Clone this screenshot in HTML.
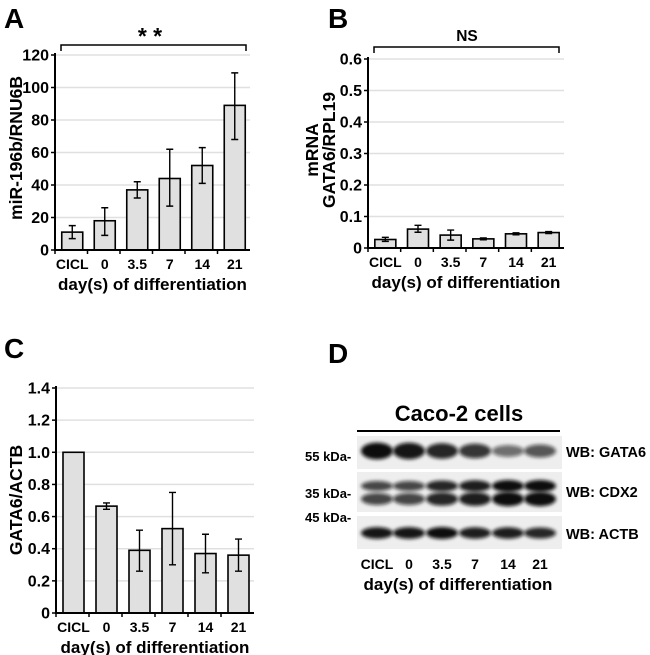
<!DOCTYPE html>
<html><head><meta charset="utf-8"><style>
body{margin:0;background:#fff}
svg{display:block;font-family:"Liberation Sans",Arial,sans-serif;font-weight:bold}
</style></head><body>
<svg id="fig" width="650" height="655" viewBox="0 0 650 655" xmlns="http://www.w3.org/2000/svg">
<defs>
<filter id="blur" x="-20%" y="-100%" width="140%" height="300%"><feGaussianBlur stdDeviation="1.8"/></filter>
</defs>
<g id="pA"></g>
<g id="pB"></g>
<g id="pC"></g>
<g id="pD"></g>
</svg>
<script>
const categories = ["CICL","0","3.5","7","14","21"];
const valuesA = [11,18,37,44,52,89];
const errLoA = [7,9,32,27,41,68];
const errHiA = [15,26,42,62,63,109];
const ticksA = [0,20,40,60,80,100,120];
const valuesB = [0.027,0.060,0.041,0.029,0.045,0.049];
const errLoB = [0.021,0.050,0.025,0.026,0.042,0.046];
const errHiB = [0.034,0.072,0.057,0.032,0.048,0.052];
const ticksB = [0,0.1,0.2,0.3,0.4,0.5,0.6];
const tickLabelsB = ["0","0.1","0.2","0.3","0.4","0.5","0.6"];
const valuesC = [1.0,0.665,0.39,0.525,0.37,0.36];
const errLoC = [1.0,0.645,0.26,0.30,0.25,0.26];
const errHiC = [1.0,0.685,0.515,0.75,0.49,0.46];
const ticksC = [0,0.2,0.4,0.6,0.8,1.0,1.2,1.4];
const tickLabelsC = ["0","0.2","0.4","0.6","0.8","1.0","1.2","1.4"];
const bandGATA6 = [1.0,0.95,0.85,0.75,0.4,0.55];
const bandCDX2 = [0.65,0.65,0.85,0.9,1.0,1.0];
const bandACTB = [0.95,0.95,1.0,0.9,0.9,0.85];

const NS="http://www.w3.org/2000/svg";
function mk(parent,tag,attrs,text){const e=document.createElementNS(NS,tag);for(const k in attrs)e.setAttribute(k,attrs[k]);if(text!==undefined)e.textContent=text;parent.appendChild(e);return e;}

function chart(g,cfg){
  const {x0,x1,y0,yTop,max,ticks,labels,vals,lo,hi}=cfg;
  const ys=v=>y0-(v/max)*(y0-yTop);
  const bw=(x1-x0)/6;
  const xc=i=>x0+bw*(i+0.5)+1;
  ticks.forEach((t,i)=>{
    if(t>0){const gl=mk(g,'line',{x1:x0,x2:x1,y1:ys(t),y2:ys(t),stroke:'#e0e0e0','stroke-width':1.5});
    
    }
    const tk=mk(g,'line',{x1:x0-4,x2:x0,y1:ys(t),y2:ys(t),stroke:'#000','stroke-width':1.5});
    
    
    const tl=mk(g,'text',{x:x0-6,y:ys(t)+5.5,'text-anchor':'end','font-size':16},labels[i]);
    
    
  });
  vals.forEach((v,i)=>{
    const b=mk(g,'rect',{x:xc(i)-10.5,y:ys(v),width:21,height:y0-ys(v),fill:'#e0e0e0',stroke:'#000','stroke-width':1.6});
    
    
    if(hi[i]>lo[i]){
      const eg=mk(g,'path',{d:`M${xc(i)} ${ys(lo[i])}V${ys(hi[i])}M${xc(i)-3.5} ${ys(lo[i])}h7M${xc(i)-3.5} ${ys(hi[i])}h7`,stroke:'#000','stroke-width':1.4,fill:'none'});
      
      
    }
    const xl=mk(g,'text',{x:xc(i),y:y0+19,'text-anchor':'middle','font-size':14},categories[i]);
    
    
    const xt=mk(g,'line',{x1:x0+bw*i,x2:x0+bw*i,y1:y0,y2:y0+4,stroke:'#000','stroke-width':1.5});
    
    
  });
  const ax=mk(g,'path',{d:`M${x0} ${yTop-2}V${y0}H${x1}`,stroke:'#000','stroke-width':2,fill:'none'});
  
  
  const xt=mk(g,'text',{x:(x0+x1)/2,y:y0+40,'text-anchor':'middle','font-size':17},'day(s) of differentiation');
  
  
}

const pA=document.getElementById('pA');
chart(pA,{x0:55,x1:250,y0:250,yTop:55,max:120,ticks:ticksA,labels:ticksA.map(String),vals:valuesA,lo:errLoA,hi:errHiA});
const pB=document.getElementById('pB');
chart(pB,{x0:368,x1:564,y0:248,yTop:59,max:0.6,ticks:ticksB,labels:tickLabelsB,vals:valuesB,lo:errLoB,hi:errHiB});
const pC=document.getElementById('pC');
chart(pC,{x0:56,x1:254,y0:613,yTop:388,max:1.4,ticks:ticksC,labels:tickLabelsC,vals:valuesC,lo:errLoC,hi:errHiC});

let e;
e=mk(pA,'text',{x:4,y:28,'font-size':28},'A');


e=mk(pA,'text',{x:0,y:0,'font-size':17.5,'text-anchor':'middle',transform:'translate(22,148) rotate(-90)'},'miR-196b/RNU6B');


e=mk(pA,'path',{d:'M61 51V45H246V51',stroke:'#000','stroke-width':1.5,fill:'none'});


e=mk(pA,'text',{x:150,y:44,'font-size':23,'text-anchor':'middle'},'* *');



e=mk(pB,'text',{x:328,y:28,'font-size':28},'B');


e=mk(pB,'text',{x:0,y:0,'font-size':17.5,'text-anchor':'middle',transform:'translate(318,150) rotate(-90)'},'mRNA');


e=mk(pB,'text',{x:0,y:0,'font-size':17.5,'text-anchor':'middle',transform:'translate(335,150) rotate(-90)'},'GATA6/RPL19');


e=mk(pB,'path',{d:'M374 53V47H559V53',stroke:'#000','stroke-width':1.5,fill:'none'});


e=mk(pB,'text',{x:467,y:41,'font-size':15.5,'text-anchor':'middle'},'NS');



e=mk(pC,'text',{x:4,y:358,'font-size':28},'C');


e=mk(pC,'text',{x:0,y:0,'font-size':17.5,'text-anchor':'middle',transform:'translate(22,500) rotate(-90)'},'GATA6/ACTB');



// Panel D
const pD=document.getElementById('pD');
e=mk(pD,'text',{x:328,y:363,'font-size':28},'D');


e=mk(pD,'text',{x:459,y:421,'font-size':22,'text-anchor':'middle'},'Caco-2 cells');


e=mk(pD,'line',{x1:357,x2:560,y1:431,y2:431,stroke:'#000','stroke-width':2});


const lanes=[377,409,442,475,508,540];
const strips=[
 {name:'gata6',y:436,h:33,bands:[[451,7]],vals:bandGATA6,label:'WB: GATA6',ly:457,kda:'55 kDa',ky:461},
 {name:'cdx2',y:472,h:40,bands:[[486,5],[499,6]],vals:bandCDX2,label:'WB: CDX2',ly:497,kda:'35 kDa',ky:498},
 {name:'actb',y:516,h:33,bands:[[533,5]],vals:bandACTB,label:'WB: ACTB',ly:539,kda:'45 kDa',ky:522}
];
strips.forEach(s=>{
  const r=mk(pD,'rect',{x:357,y:s.y,width:205,height:s.h,fill:'#eeeeee'});
  
  
  s.vals.forEach((v,i)=>{
    s.bands.forEach(b=>{
      const el=mk(pD,'ellipse',{cx:lanes[i],cy:b[0],rx:16,ry:b[1]*(0.6+0.6*v),fill:'#111','fill-opacity':0.3+0.7*v,filter:'url(#blur)'});
      
      
    });
  });
  const t=mk(pD,'text',{x:566,y:s.ly,'font-size':14.5},s.label);
  
  
  const k=mk(pD,'text',{x:305,y:s.ky,'font-size':13},s.kda+'-');
  
  
});
categories.forEach((c,i)=>{
  const t=mk(pD,'text',{x:lanes[i],y:569,'font-size':14,'text-anchor':'middle'},c);
  
  
});
e=mk(pD,'text',{x:458,y:590,'font-size':17,'text-anchor':'middle'},'day(s) of differentiation');


</script>
</body></html>
